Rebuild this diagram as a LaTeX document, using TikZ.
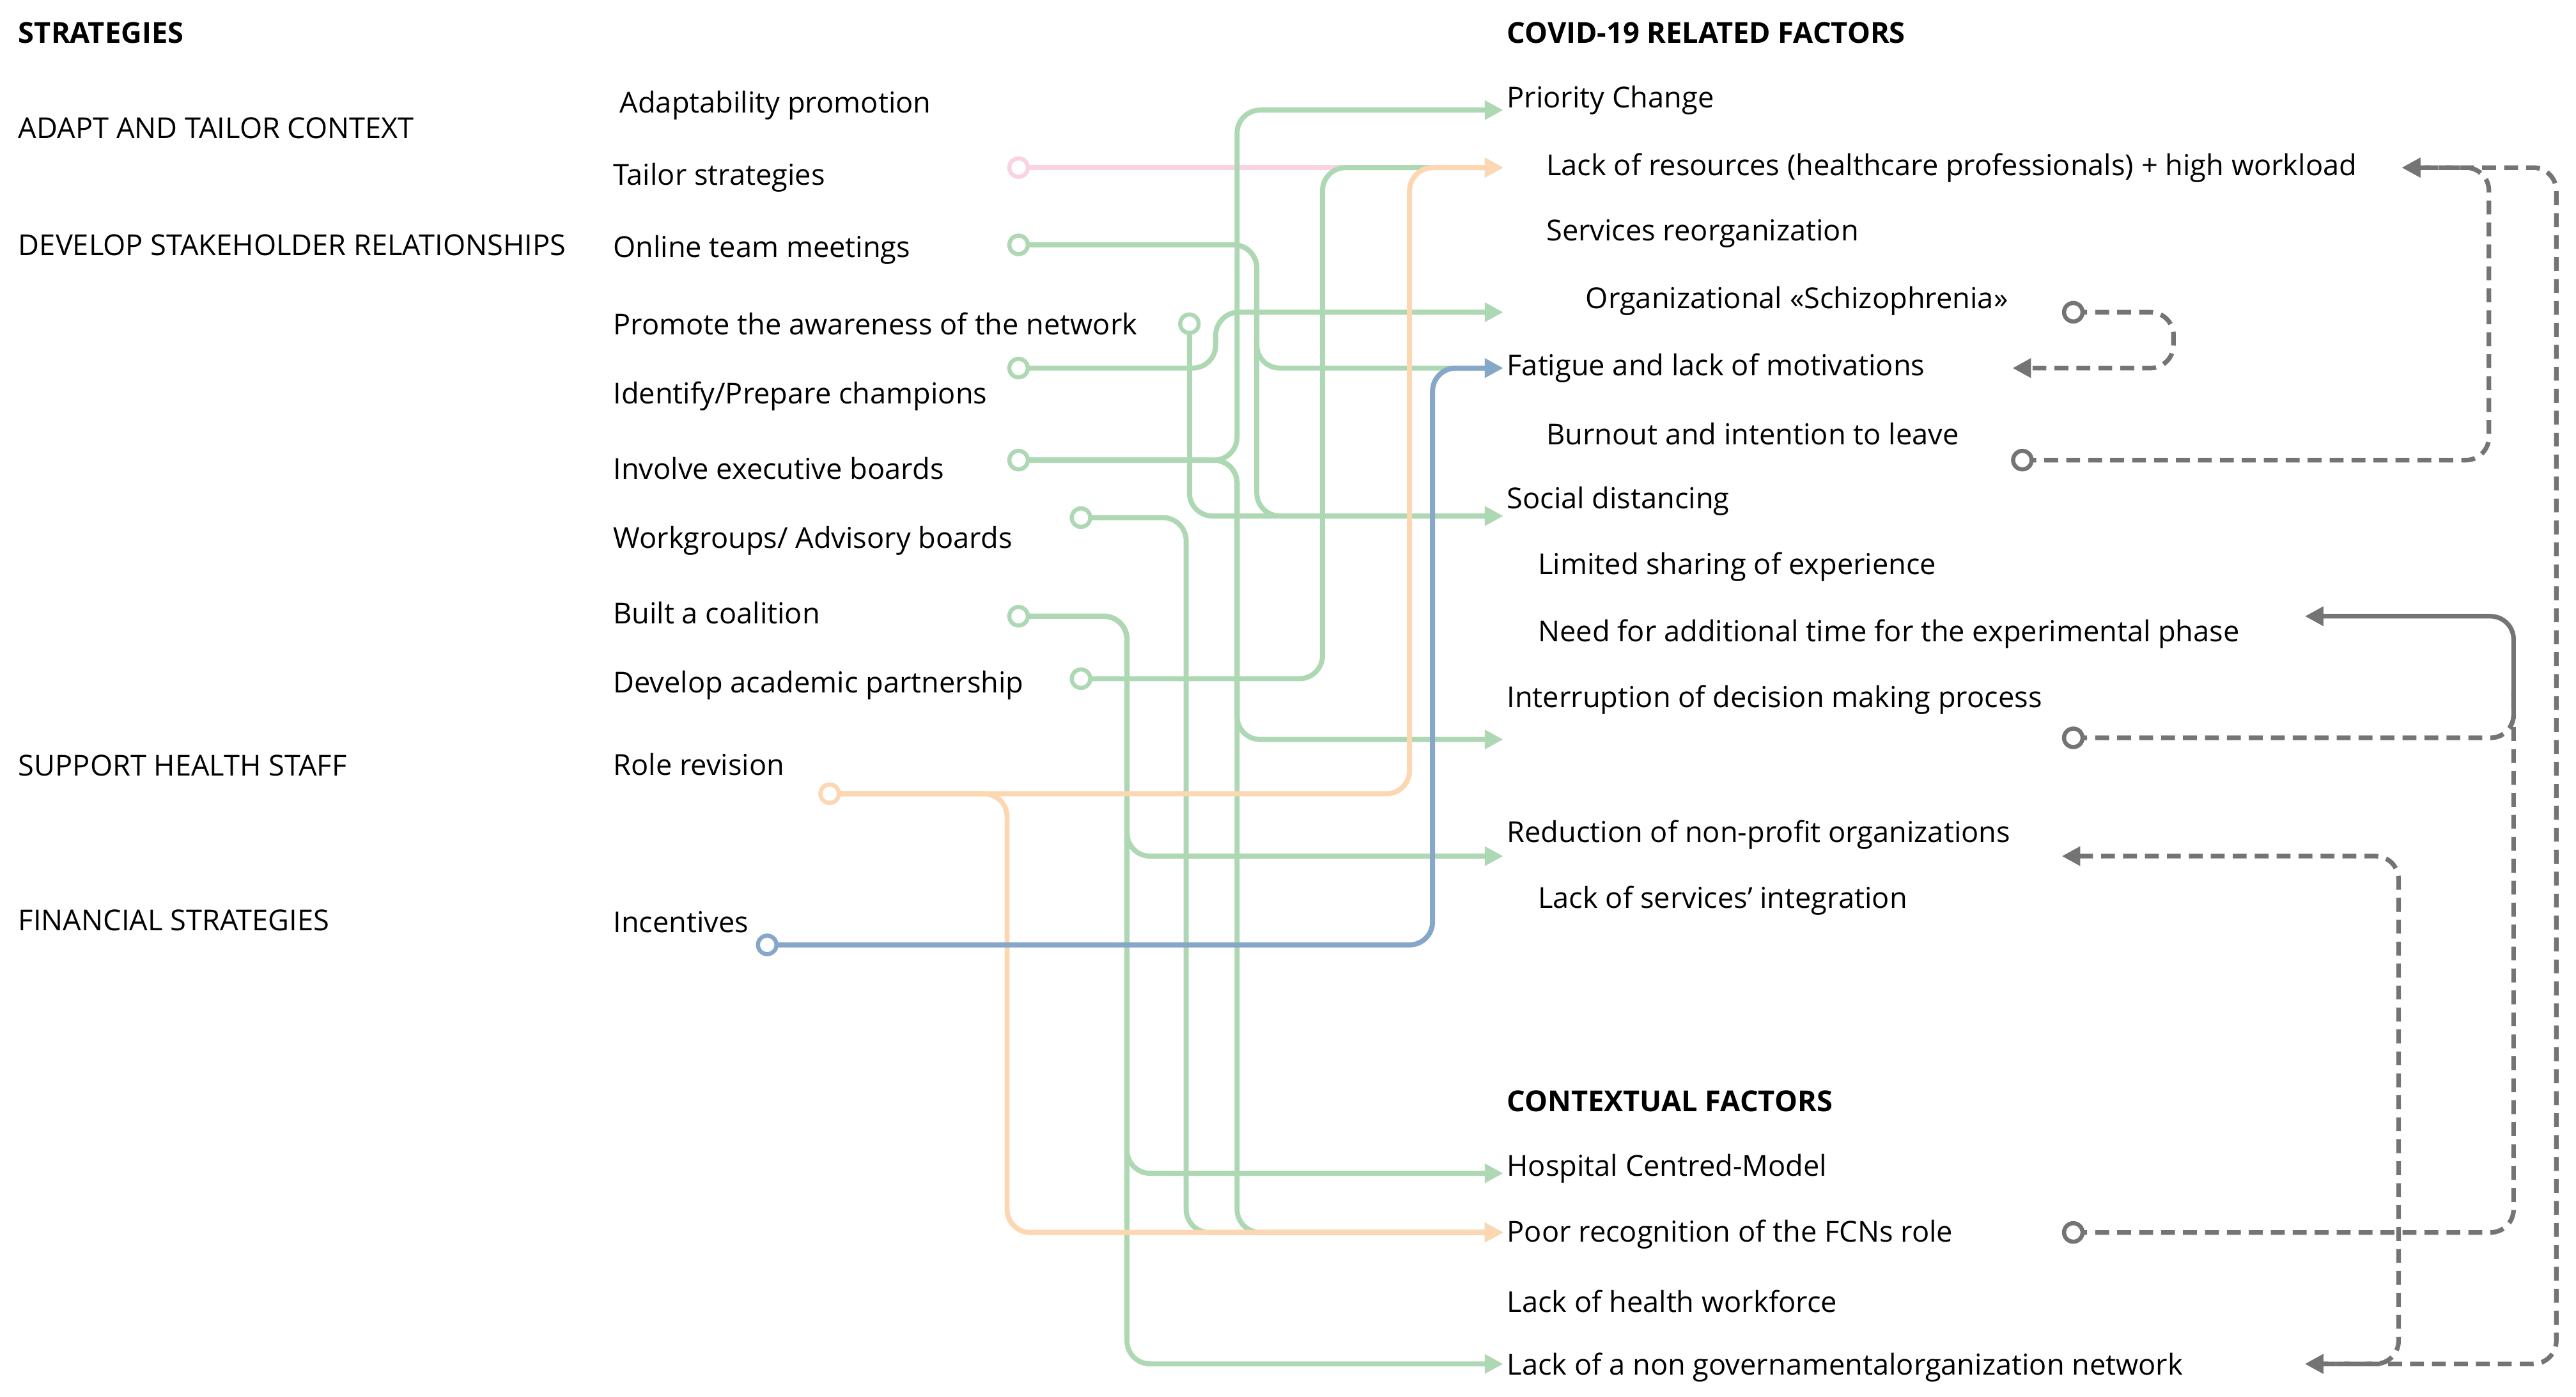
\documentclass[tikz,border=0pt]{standalone}
\usepackage{fontspec}
\setmainfont{Open Sans}
\usetikzlibrary{arrows.meta}
\definecolor{gr}{HTML}{AED8B3}
\definecolor{pk}{HTML}{F9D3E2}
\definecolor{og}{HTML}{FCD7B2}
\definecolor{bl}{HTML}{86A7C7}
\definecolor{gy}{HTML}{747474}
\begin{document}
\begin{tikzpicture}[x=0.025cm,y=-0.025cm,
  t/.style={anchor=west,inner sep=0pt,font=\fontsize{12.5}{14}\selectfont},
  h/.style={t,font=\fontsize{12.5}{14}\selectfont\bfseries},
  src/.style={circle,draw=#1,line width=1.8pt,fill=white,minimum size=8pt,inner sep=0pt},
  cn/.style={draw=#1,line width=2.2pt,rounded corners=10pt,-{Triangle[length=8pt,width=8pt]}},
  dcn/.style={draw=gy,line width=2pt,rounded corners=10pt,dash pattern=on 6pt off 3.5pt,-{Triangle[length=8pt,width=8pt]}}]
\useasboundingbox (0,0) rectangle (1568,850);
% left headers
\node[h] (hs) at (11,20) {STRATEGIES};
\node[t] (h1) at (11,78) {ADAPT AND TAILOR CONTEXT};
\node[t] (h2) at (11,149) {DEVELOP STAKEHOLDER RELATIONSHIPS};
\node[t] (h3) at (11,466) {SUPPORT HEALTH STAFF};
\node[t] (h4) at (11,560) {FINANCIAL STRATEGIES};
% strategies
\node[t] (s1) at (377,64) {Adaptability promotion};
\node[t] (s2) at (373,108) {Tailor strategies};
\node[t] (s3) at (373,152) {Online team meetings};
\node[t] (s4) at (373,197) {Promote the awareness of the network};
\node[t] (s5) at (373,241) {Identify/Prepare champions};
\node[t] (s6) at (373,285) {Involve executive boards};
\node[t] (s7) at (373,329) {Workgroups/ Advisory boards};
\node[t] (s8) at (373,373) {Built a coalition};
\node[t] (s9) at (373,417) {Develop academic partnership};
\node[t] (s10) at (373,465) {Role revision};
\node[t] (s11) at (373,561) {Incentives};
% factors
\node[h] (hc) at (917,20) {COVID-19 RELATED FACTORS};
\node[t] (f1) at (917,61) {Priority Change};
\node[t] (f2) at (941,102) {Lack of resources (healthcare professionals) + high workload};
\node[t] (f3) at (941,142) {Services reorganization};
\node[t] (f4) at (965,183) {Organizational «Schizophrenia»};
\node[t] (f5) at (917,224) {Fatigue and lack of motivations};
\node[t] (f6) at (941,264) {Burnout and intention to leave};
\node[t] (f7) at (917,305) {Social distancing};
\node[t] (f8) at (936,345) {Limited sharing of experience};
\node[t] (f9) at (936,386) {Need for additional time for the experimental phase};
\node[t] (f10) at (917,426) {Interruption of decision making process};
\node[t] (f11) at (917,508) {Reduction of non-profit organizations};
\node[t] (f12) at (936,548) {Lack of services’ integration};
\node[h] (hx) at (917,670) {CONTEXTUAL FACTORS};
\node[t] (c1) at (917,711) {Hospital Centred-Model};
\node[t] (c2) at (917,751) {Poor recognition of the FCNs role};
\node[t] (c3) at (917,792) {Lack of health workforce};
\node[t] (c4) at (917,832) {Lack of a non governamentalorganization network};
% arrow end coordinates
\coordinate (e1) at (915,67); \coordinate (e2) at (915,102); \coordinate (e4) at (915,190);
\coordinate (e5) at (915,224); \coordinate (e7) at (915,314); \coordinate (e10) at (915,450);
\coordinate (e11) at (915,521); \coordinate (ec1) at (915,714); \coordinate (ec2) at (915,750);
\coordinate (ec4) at (915,830);
% coloured connectors
\draw[cn=pk] (620,102) -- (e2);
\draw[cn=gr] (620,280) -- (753,280) -- (753,67) -- (e1);
\draw[cn=gr] (620,280) -- (753,280) -- (753,450) -- (e10);
\draw[cn=gr] (620,280) -- (753,280) -- (753,750) -- (ec2);
\draw[cn=gr] (620,149) -- (765,149) -- (765,224) -- (e5);
\draw[cn=gr] (620,149) -- (765,149) -- (765,314) -- (e7);
\draw[cn=gr] (724,197) -- (724,314) -- (e7);
\draw[cn=gr] (620,224) -- (740,224) -- (740,190) -- (e4);
\draw[cn=gr] (658,315) -- (722,315) -- (722,750) -- (ec2);
\draw[cn=gr] (620,375) -- (686,375) -- (686,521) -- (e11);
\draw[cn=gr] (620,375) -- (686,375) -- (686,714) -- (ec1);
\draw[cn=gr] (620,375) -- (686,375) -- (686,830) -- (ec4);
\draw[cn=gr] (658,413) -- (805,413) -- (805,102) -- (e2);
\draw[cn=og] (505,483) -- (613,483) -- (613,750) -- (ec2);
\draw[cn=og] (505,483) -- (858,483) -- (858,102) -- (e2);
\draw[cn=bl] (467,575) -- (872,575) -- (872,224) -- (e5);
% source circles
\node[src=pk] (p2) at (620,102) {};
\node[src=gr] (p3) at (620,149) {};
\node[src=gr] (p4) at (724,197) {};
\node[src=gr] (p5) at (620,224) {};
\node[src=gr] (p6) at (620,280) {};
\node[src=gr] (p7) at (658,315) {};
\node[src=gr] (p8) at (620,375) {};
\node[src=gr] (p9) at (658,413) {};
\node[src=og] (p10) at (505,483) {};
\node[src=bl] (p11) at (467,575) {};
% grey feedback connectors
\coordinate (g2) at (1462,102); \coordinate (g5) at (1225,224); \coordinate (g9) at (1403,375);
\coordinate (g11) at (1255,521); \coordinate (g4c) at (1403,830);
\draw[dcn] (1262,190) -- (1323,190) -- (1323,224) -- (g5);
\draw[dcn] (1231,280) -- (1515,280) -- (1515,102) -- (g2);
\draw[dcn,{Triangle[length=8pt,width=8pt]}-{Triangle[length=8pt,width=8pt]}] (g4c) -- (1556,830) -- (1556,102) -- (g2);
\draw[dcn,{Triangle[length=8pt,width=8pt]}-{Triangle[length=8pt,width=8pt]}] (g11) -- (1460,521) -- (1460,830) -- (g4c);
\draw[dcn,-] (1262,449) -- (1530,449) -- (1530,420);
\draw[dcn,-] (1262,750) -- (1530,750) -- (1530,420);
\draw[dcn,dash pattern=] (1530,430) -- (1530,375) -- (g9);
\node[circle,draw=gy,line width=1.8pt,fill=white,minimum size=8pt,inner sep=0pt] (q4) at (1262,190) {};
\node[circle,draw=gy,line width=1.8pt,fill=white,minimum size=8pt,inner sep=0pt] (q6) at (1231,280) {};
\node[circle,draw=gy,line width=1.8pt,fill=white,minimum size=8pt,inner sep=0pt] (q10) at (1262,449) {};
\node[circle,draw=gy,line width=1.8pt,fill=white,minimum size=8pt,inner sep=0pt] (qc2) at (1262,750) {};
\end{tikzpicture}
\end{document}
